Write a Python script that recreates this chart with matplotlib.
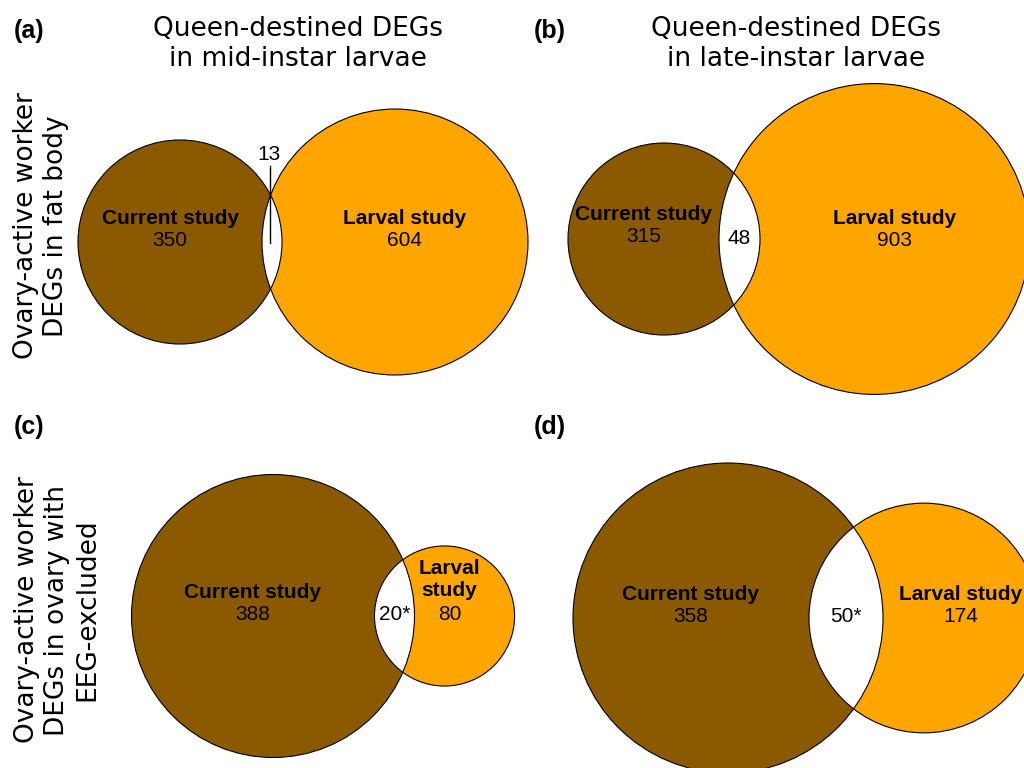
import numpy as np
import matplotlib
matplotlib.use("Agg")
import matplotlib.pyplot as plt
from matplotlib.patches import Circle

# gene counts per comparison: (a) (b) top row, (c) (d) bottom row
panel_tags = ["(a)", "(b)", "(c)", "(d)"]
current_only = [350, 315, 388, 358]
larval_only = [604, 903, 80, 174]
shared = [13, 48, 20, 50]
shared_labels = ["13", "48", "20*", "50*"]
larval_names = ["Larval study", "Larval study", "Larval\nstudy", "Larval study"]

col_titles = [
    "Queen-destined DEGs\nin mid-instar larvae",
    "Queen-destined DEGs\nin late-instar larvae",
]
row_titles = [
    "Ovary-active worker\nDEGs in fat body",
    "Ovary-active worker\nDEGs in ovary with\nEEG-excluded",
]

BROWN = "#8B5A00"
ORANGE = "#FFA500"
TITLE_FONT = "DejaVu Sans"
LABEL_FONT = "Liberation Sans"

# layout in pixels: centre of the "current" circle, px per sqrt(gene), lens width
layout = [
    dict(cx=180, cy=242, k=5.354, lens=20, tag=(14, 31)),
    dict(cx=664, cy=239, k=5.039, lens=41, tag=(534, 31)),
    dict(cx=273, cy=616, k=7.005, lens=40, tag=(14, 427)),
    dict(cx=728, cy=618, k=7.674, lens=74, tag=(534, 427)),
]

fig = plt.figure(figsize=(10.24, 7.68), dpi=100)
ax = fig.add_axes([0, 0, 1, 1])
ax.set_xlim(0, 1024)
ax.set_ylim(768, 0)
ax.axis("off")


def draw_venn(ax, i):
    p = layout[i]
    r1 = p["k"] * np.sqrt(current_only[i] + shared[i])
    r2 = p["k"] * np.sqrt(larval_only[i] + shared[i])
    x1, y = p["cx"], p["cy"]
    x2 = x1 + r1 + r2 - p["lens"]

    c1 = Circle((x1, y), r1, facecolor=BROWN, edgecolor="none")
    c2 = Circle((x2, y), r2, facecolor=ORANGE, edgecolor="none")
    ax.add_patch(c1)
    ax.add_patch(c2)
    # white overlap: orange circle clipped by the brown one
    lens = Circle((x2, y), r2, facecolor="white", edgecolor="none")
    ax.add_patch(lens)
    lens.set_clip_path(c1)
    for cx, r in [(x1, r1), (x2, r2)]:
        ax.add_patch(Circle((cx, y), r, facecolor="none",
                            edgecolor="black", linewidth=0.8))

    left_mid = (x1 - r1 + x2 - r2) / 2
    right_mid = (x1 + r1 + x2 + r2) / 2
    lens_mid = (x1 + r1 + x2 - r2) / 2
    if i == 2:
        right_mid -= 15

    ax.text(left_mid, y - 24, "Current study", ha="center", va="center",
            fontsize=15, fontweight="bold", family=LABEL_FONT)
    ax.text(left_mid, y - 2, str(current_only[i]), ha="center", va="center",
            fontsize=15, family=LABEL_FONT)

    name = larval_names[i]
    name_y = y - 24 - (12 if "\n" in name else 0)
    if i == 1:
        name_y += 3
    ax.text(right_mid, name_y, name, ha="center", va="center",
            fontsize=15, fontweight="bold", family=LABEL_FONT,
            linespacing=1.2)
    ax.text(right_mid, y - 2 + (3 if i == 1 else 0), str(larval_only[i]),
            ha="center", va="center", fontsize=15, family=LABEL_FONT)

    if p["lens"] < 30:
        # overlap too thin for the number: put it above with a leader line
        ax.plot([lens_mid - 2, lens_mid - 2], [y - 76, y + 1],
                color="black", linewidth=1)
        ax.text(lens_mid - 3, y - 87, shared_labels[i], ha="center",
                va="center", fontsize=15, family=LABEL_FONT)
    else:
        ax.text(lens_mid, y - 1, shared_labels[i], ha="center", va="center",
                fontsize=15, family=LABEL_FONT)

    ax.text(p["tag"][0], p["tag"][1], panel_tags[i], ha="left", va="center",
            fontsize=18, fontweight="bold", family=LABEL_FONT)


for i in range(4):
    draw_venn(ax, i)

for x, title in zip([298, 796], col_titles):
    ax.text(x, 44, title, ha="center", va="center", fontsize=19,
            family=TITLE_FONT, linespacing=1.2)

for (x, y), title in zip([(41, 226), (57, 610)], row_titles):
    ax.text(x, y, title, ha="center", va="center", rotation=90,
            fontsize=19, family=TITLE_FONT, linespacing=1.2)

fig.savefig("out.png", dpi=100, facecolor="white")
